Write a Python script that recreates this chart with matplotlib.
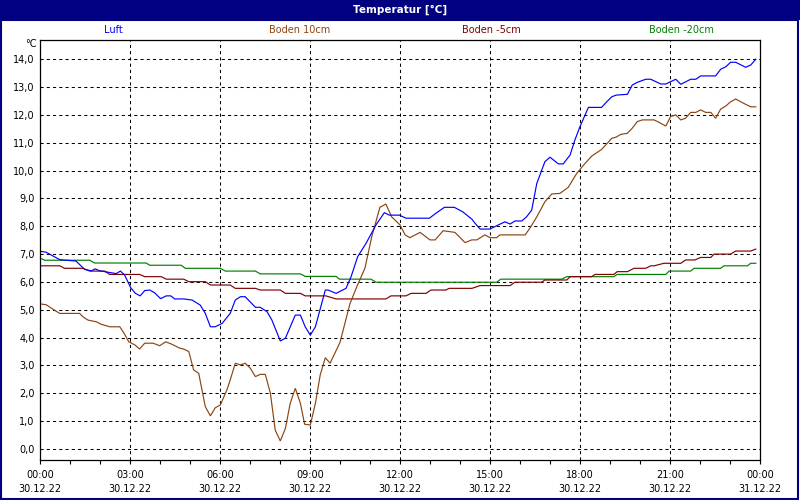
import matplotlib
matplotlib.use("Agg")
import matplotlib.pyplot as plt
from matplotlib.patches import Rectangle
from matplotlib.ticker import FixedLocator, FuncFormatter

# ---------------- data (time in hours since 30.12.22 00:00, °C) ----------------
luft_t = [0.02, 0.2, 0.66, 1.2, 1.49, 1.71, 1.84, 1.99, 2.54, 2.68, 2.82, 3.02, 3.18, 3.34,
          3.49, 3.66, 3.82, 4.02, 4.21, 4.36, 4.49, 4.79, 5.07, 5.34, 5.51, 5.68, 5.84, 6.07,
          6.34, 6.51, 6.68, 6.84, 7.18, 7.34, 7.57, 7.73, 8.01, 8.18, 8.51, 8.68, 8.84, 9.01,
          9.18, 9.51, 9.6, 9.87, 10.2, 10.37, 10.59, 10.87, 11.2, 11.48, 11.64, 11.98, 12.2,
          12.98, 13.2, 13.48, 13.81, 14.09, 14.4, 14.5, 14.67, 15.0, 15.28, 15.5, 15.67, 15.83,
          16.06, 16.22, 16.39, 16.56, 16.83, 17.0, 17.28, 17.44, 17.67, 17.83, 18.0, 18.28,
          18.72, 18.89, 19.06, 19.2, 19.58, 19.74, 19.91, 20.19, 20.36, 20.69, 20.86, 21.19,
          21.36, 21.69, 21.86, 22.02, 22.52, 22.69, 22.86, 23.02, 23.19, 23.52, 23.69, 23.86]
luft_v = [7.1, 7.07, 6.8, 6.75, 6.45, 6.4, 6.47, 6.4, 6.3, 6.39, 6.25, 5.8, 5.59, 5.5,
          5.69, 5.71, 5.61, 5.4, 5.5, 5.5, 5.39, 5.39, 5.35, 5.17, 4.87, 4.39, 4.39, 4.51,
          4.87, 5.35, 5.47, 5.47, 5.09, 5.09, 4.93, 4.63, 3.88, 3.98, 4.81, 4.81, 4.39, 4.09,
          4.39, 5.71, 5.71, 5.59, 5.77, 6.19, 6.91, 7.39, 8.05, 8.49, 8.4, 8.4, 8.29,
          8.29, 8.47, 8.68, 8.68, 8.52, 8.25, 8.11, 7.9, 7.9, 8.05, 8.16, 8.08, 8.19,
          8.19, 8.34, 8.58, 9.54, 10.32, 10.48, 10.24, 10.24, 10.56, 11.1, 11.58, 12.27,
          12.27, 12.47, 12.65, 12.71, 12.74, 13.07, 13.17, 13.28, 13.28, 13.11, 13.11, 13.28,
          13.1, 13.28, 13.28, 13.4, 13.4, 13.64, 13.73, 13.89, 13.89, 13.71, 13.79, 14.0]

boden10_t = [0.02, 0.21, 0.43, 0.66, 1.32, 1.43, 1.6, 1.88, 2.04, 2.32, 2.66, 2.8, 2.96, 3.16,
             3.32, 3.49, 3.77, 3.99, 4.19, 4.38, 4.66, 4.79, 4.96, 5.12, 5.29, 5.51, 5.68, 5.84,
             6.01, 6.23, 6.34, 6.51, 6.68, 6.84, 7.01, 7.18, 7.34, 7.51, 7.68, 7.84, 8.01, 8.18,
             8.34, 8.51, 8.68, 8.82, 9.01, 9.18, 9.34, 9.51, 9.67, 10.0, 10.33, 10.56, 10.83,
             11.06, 11.33, 11.53, 11.72, 12.0, 12.17, 12.33, 12.67, 13.0, 13.17, 13.44, 13.83,
             14.17, 14.39, 14.56, 14.83, 15.0, 15.22, 15.33, 16.17, 16.33, 16.56, 16.83, 17.06,
             17.33, 17.61, 17.89, 18.17, 18.39, 18.72, 18.89, 19.06, 19.2, 19.36, 19.58, 19.74,
             19.91, 20.08, 20.47, 20.69, 20.86, 21.02, 21.19, 21.36, 21.52, 21.69, 21.86, 22.02,
             22.19, 22.36, 22.52, 22.69, 22.86, 23.02, 23.19, 23.36, 23.52, 23.69, 23.86]
boden10_v = [5.21, 5.18, 5.02, 4.87, 4.87, 4.75, 4.63, 4.57, 4.48, 4.39, 4.39, 4.16, 3.85, 3.74,
             3.59, 3.8, 3.8, 3.71, 3.85, 3.77, 3.62, 3.59, 3.5, 2.84, 2.72, 1.52, 1.19, 1.48,
             1.58, 2.12, 2.48, 3.08, 3.02, 3.08, 2.9, 2.6, 2.68, 2.68, 2.0, 0.68, 0.29, 0.74,
             1.64, 2.18, 1.64, 0.89, 0.86, 1.64, 2.66, 3.28, 3.08, 3.83, 5.21, 5.83, 6.49,
             7.63, 8.68, 8.8, 8.34, 8.05, 7.69, 7.59, 7.78, 7.51, 7.51, 7.84, 7.78,
             7.41, 7.51, 7.51, 7.69, 7.59, 7.59, 7.69, 7.69, 7.93, 8.34, 8.88, 9.16,
             9.18, 9.4, 9.9, 10.26, 10.52, 10.76, 10.96, 11.16, 11.2, 11.3, 11.34, 11.52,
             11.76, 11.82, 11.82, 11.7, 11.6, 11.94, 12.0, 11.82, 11.88, 12.09, 12.09, 12.18,
             12.09, 12.09, 11.88, 12.21, 12.32, 12.47, 12.57, 12.47, 12.38, 12.29, 12.29]

boden5_t = [0.02, 0.66, 0.82, 1.43, 1.66, 2.16, 2.32, 3.32, 3.49, 4.04, 4.21, 4.79, 4.96, 5.51,
            5.68, 6.34, 6.51, 7.18, 7.34, 8.01, 8.18, 8.68, 8.84, 9.53, 9.87, 11.53, 11.7, 12.2,
            12.37, 12.87, 13.03, 13.53, 13.64, 14.4, 14.67, 15.67, 15.83, 16.72, 16.83, 17.56,
            17.67, 18.39, 18.5, 19.13, 19.24, 19.58, 19.8, 20.19, 20.36, 20.47, 20.8, 21.36,
            21.52, 21.83, 22.02, 22.36, 22.47, 23.02, 23.19, 23.69, 23.86]
boden5_v = [6.58, 6.58, 6.49, 6.49, 6.39, 6.39, 6.27, 6.27, 6.19, 6.19, 6.1, 6.1, 6.01, 6.01,
            5.89, 5.89, 5.77, 5.77, 5.71, 5.71, 5.59, 5.59, 5.5, 5.5, 5.39, 5.39, 5.5, 5.5,
            5.59, 5.59, 5.71, 5.71, 5.77, 5.77, 5.87, 5.87, 5.99, 5.99, 6.07, 6.07,
            6.19, 6.19, 6.27, 6.27, 6.37, 6.37, 6.49, 6.49, 6.58, 6.58, 6.67, 6.67,
            6.79, 6.79, 6.88, 6.88, 7.0, 7.0, 7.11, 7.11, 7.18]

boden20_t = [0.02, 0.16, 1.66, 1.82, 3.54, 3.66, 4.71, 4.84, 6.01, 6.18, 7.18, 7.34, 8.68, 8.84,
             9.87, 9.98, 11.03, 11.2, 15.22, 15.36, 17.39, 17.56, 19.13, 19.24, 20.86, 20.97,
             21.69, 21.8, 22.69, 22.8, 23.58, 23.69, 23.86]
boden20_v = [6.85, 6.78, 6.78, 6.68, 6.68, 6.6, 6.6, 6.49, 6.49, 6.39, 6.39, 6.29, 6.29, 6.2,
             6.2, 6.1, 6.1, 5.99, 5.99, 6.1, 6.1, 6.19, 6.19, 6.27, 6.27, 6.39,
             6.39, 6.49, 6.49, 6.58, 6.58, 6.67, 6.67]

series_names = ["Luft", "Boden 10cm", "Boden -5cm", "Boden -20cm"]
series_colors = ["#0000ff", "#8b4513", "#800000", "#008000"]

x_major = [0, 3, 6, 9, 12, 15, 18, 21, 24]
x_labels = ["00:00\n30.12.22", "03:00\n30.12.22", "06:00\n30.12.22", "09:00\n30.12.22",
            "12:00\n30.12.22", "15:00\n30.12.22", "18:00\n30.12.22", "21:00\n30.12.22",
            "00:00\n31.12.22"]
y_ticks = list(range(0, 15))

# ---------------- figure ----------------
W, H = 800, 500
fig = plt.figure(figsize=(8, 5), dpi=100, facecolor="white")

def fx(px):
    return px / W

def fy(py):
    return 1 - py / H

ax = fig.add_axes([fx(40), fy(460), fx(760) - fx(40), fy(40) - fy(460)])
ax.set_facecolor("white")

data = [(luft_t, luft_v), (boden10_t, boden10_v), (boden5_t, boden5_v), (boden20_t, boden20_v)]
for (t, v), c in zip(data[::-1], series_colors[::-1]):
    ax.plot(t, v, color=c, lw=0.85, solid_joinstyle="miter")

ax.set_xlim(0, 24)
ax.set_ylim(-0.395, 14.69)

ax.xaxis.set_major_locator(FixedLocator(x_major))
ax.set_xticklabels(x_labels, fontsize=7, linespacing=1.5)
ax.xaxis.set_minor_locator(FixedLocator(list(range(0, 25))))
ax.tick_params(axis="x", which="both", direction="out", length=3, width=0.8, color="black", pad=4)
ax.set_yticks(y_ticks)
ax.yaxis.set_major_formatter(FuncFormatter(lambda v, p: f"{v:.1f}".replace(".", ",")))
ax.tick_params(axis="y", length=0, pad=4, labelsize=7)

ax.grid(True, which="major", color="black", linestyle=(0, (3, 3)), lw=0.75)
for s in ax.spines.values():
    s.set_color("black")
    s.set_linewidth(0.9)

# title bar
fig.patches.append(Rectangle((0, fy(20)), 1, 1 - fy(20), transform=fig.transFigure,
                             facecolor="#000080", edgecolor="none", zorder=0))
fig.text(0.5, fy(10), "Temperatur [°C]", color="white", fontsize=7.5, fontweight="bold",
         ha="center", va="center")
# outer border
fig.patches.append(Rectangle((0.001, 0.002), 0.997, fy(20) - 0.002, transform=fig.transFigure,
                             facecolor="none", edgecolor="#000080", lw=1.5, zorder=0))

# legend texts
for name, c, px in zip(series_names, series_colors, [113, 300, 491, 681]):
    fig.text(fx(px), fy(30), name, color=c, fontsize=7, ha="center", va="center")

fig.text(fx(37), fy(44), "°C", fontsize=7, ha="right", va="center")

fig.savefig("out.png", dpi=100, facecolor="white")
